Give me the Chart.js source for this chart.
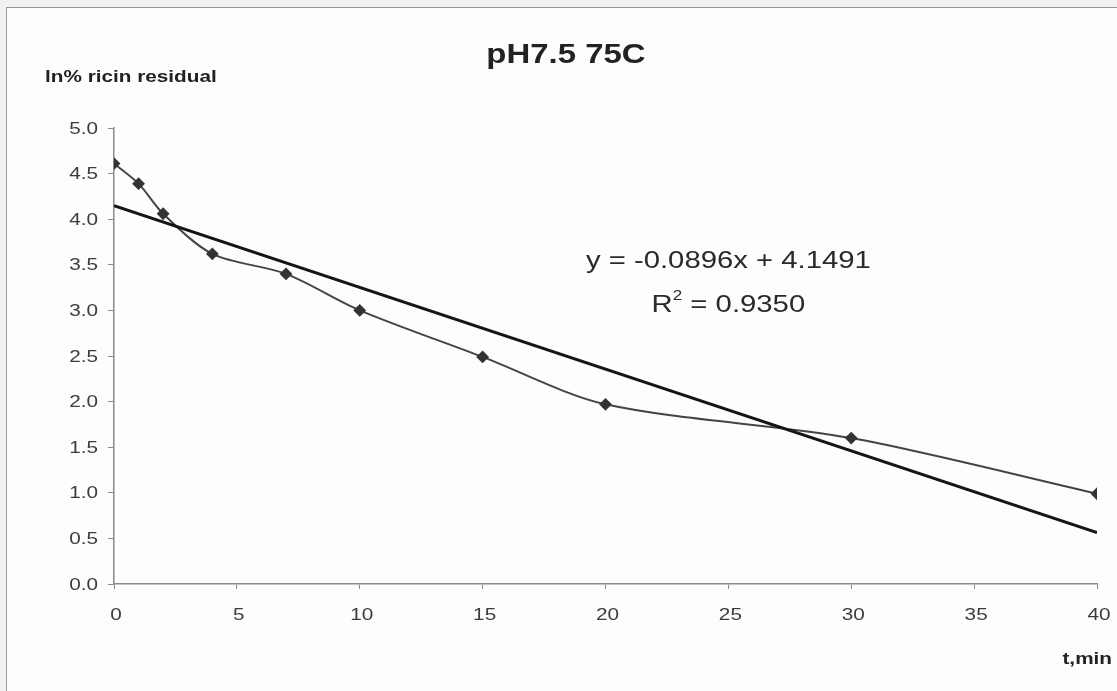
<!DOCTYPE html>
<html>
<head>
<meta charset="utf-8">
<script src="https://cdn.jsdelivr.net/npm/chart.js@4/dist/chart.umd.min.js"></script>
<style>
  html, body { margin: 0; padding: 0; background: #f2f2f2; }
  #wrap { position: relative; width: 1117px; height: 691px; overflow: hidden; }
  #frame { position: absolute; left: 6px; top: 7px; right: -4px; bottom: -4px; border: 1px solid #999; background: #fdfdfd; }
  canvas { position: absolute; left: 0; top: 0; }
</style>
</head>
<body>
<div id="wrap">
  <div id="frame"></div>
  <canvas id="chartRicin" width="1117" height="691"></canvas>
</div>
<script>
// time points (min) and ln of % ricin remaining
var times = [0, 1, 2, 4, 7, 10, 15, 20, 30, 40];
var lnResidual = [4.61, 4.39, 4.06, 3.62, 3.40, 3.00, 2.49, 1.97, 1.60, 0.99];

// linear fit shown on the chart
var slope = -0.0896;
var intercept = 4.1491;
var rSquared = '0.9350';
var fitRange = [0, 40];

var xTicks = [0, 5, 10, 15, 20, 25, 30, 35, 40];

var points = times.map(function (t, i) { return { x: t, y: lnResidual[i] }; });
var fitLine = fitRange.map(function (t) { return { x: t, y: intercept + slope * t }; });

var font = '"Liberation Sans", Arial, sans-serif';
var SX = 1.22; // the printed lettering is a bit wide

// draw text squeezed/stretched horizontally around an anchor
function wideText(c, str, x, y, align) {
  c.save();
  c.translate(x, y);
  c.scale(SX, 1);
  c.textAlign = align;
  c.fillText(str, 0, 0);
  c.restore();
}

// titles, tick labels and the regression label are painted by hand
var textPlugin = {
  id: 'texts',
  afterDraw: function (chart) {
    var c = chart.ctx;
    var xs = chart.scales.x, ys = chart.scales.y;
    c.save();
    c.textBaseline = 'alphabetic';
    c.fillStyle = '#222';

    c.font = 'bold 27px ' + font;
    wideText(c, 'pH7.5 75C', 566, 63, 'center');

    c.font = 'bold 17px ' + font;
    wideText(c, 'ln% ricin residual', 45, 82, 'left');
    c.font = 'bold 17px ' + font;
    wideText(c, 't,min', 1112, 664, 'right');

    // tick labels
    c.fillStyle = '#3c3c3c';
    c.font = '17px ' + font;
    c.textBaseline = 'middle';
    ys.ticks.forEach(function (t) {
      wideText(c, t.value.toFixed(1), ys.left + ys.width - 16, ys.getPixelForValue(t.value) + 1, 'right');
    });
    xs.ticks.forEach(function (t) {
      wideText(c, String(t.value), xs.getPixelForValue(t.value) + 2, xs.top + 31, 'center');
    });

    // regression equation
    c.textBaseline = 'alphabetic';
    c.fillStyle = '#2a2a2a';
    var ex = xs.getPixelForValue(25.0);
    var ey = ys.getPixelForValue(3.47);
    c.font = '24px ' + font;
    var sgn = slope < 0 ? '-' : '';
    wideText(c, 'y = ' + sgn + Math.abs(slope).toFixed(4) + 'x + ' + intercept.toFixed(4), ex, ey, 'center');

    var r1 = 'R', r2 = ' = ' + rSquared;
    c.font = '24px ' + font;
    var w1 = c.measureText(r1).width * SX, w2 = c.measureText(r2).width * SX;
    c.font = '14px ' + font;
    var ws = c.measureText('2').width * SX;
    var start = ex - (w1 + ws + w2) / 2;
    var ry = ey + 44;
    c.font = '24px ' + font;
    wideText(c, r1, start, ry, 'left');
    c.font = '14px ' + font;
    wideText(c, '2', start + w1, ry - 12, 'left');
    c.font = '24px ' + font;
    wideText(c, r2, start + w1 + ws, ry, 'left');
    c.restore();
  }
};

var ctx = document.getElementById('chartRicin').getContext('2d');
var myChart = new Chart(ctx, {
  type: 'scatter',
  data: {
    datasets: [
      {
        label: 'ln residual',
        data: points,
        showLine: true,
        tension: 0.3,
        borderColor: '#444',
        borderWidth: 2,
        pointStyle: 'rectRot',
        pointRadius: 5,
        pointBackgroundColor: '#333',
        pointBorderColor: '#333',
        order: 2
      },
      {
        label: 'fit',
        data: fitLine,
        showLine: true,
        borderColor: '#151515',
        borderWidth: 3,
        pointRadius: 0,
        order: 1
      }
    ]
  },
  options: {
    responsive: false,
    animation: false,
    layout: { padding: { top: 128, right: 20, left: 0, bottom: 0 } },
    plugins: { legend: { display: false }, tooltip: { enabled: false } },
    scales: {
      x: {
        type: 'linear',
        min: 0,
        max: 40,
        afterBuildTicks: function (scale) {
          scale.ticks = xTicks.map(function (v) { return { value: v }; });
        },
        afterFit: function (scale) { scale.height = 107; },
        border: { color: '#8a8a8a', width: 1.5 },
        grid: { drawOnChartArea: false, tickLength: 5, color: '#8a8a8a' },
        ticks: { display: false }
      },
      y: {
        min: 0,
        max: 5,
        afterFit: function (scale) { scale.width = 114; },
        border: { color: '#8a8a8a', width: 1.5 },
        grid: { drawOnChartArea: false, tickLength: 6, color: '#8a8a8a' },
        ticks: { stepSize: 0.5, display: false }
      }
    }
  },
  plugins: [textPlugin]
});
</script>
</body>
</html>
